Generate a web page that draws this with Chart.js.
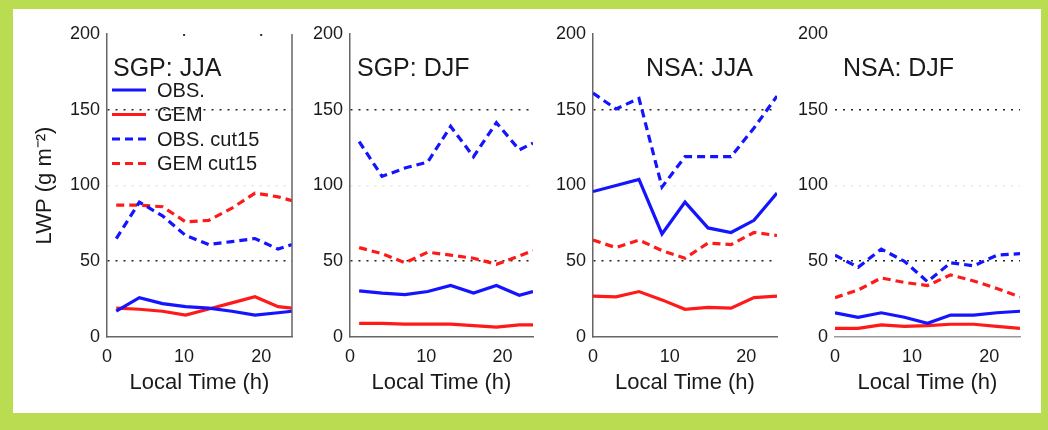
<!DOCTYPE html>
<html>
<head>
<meta charset="utf-8">
<script src="https://cdn.jsdelivr.net/npm/chart.js@4.4.1/dist/chart.umd.min.js"></script>
<style>
  html, body { margin: 0; padding: 0; }
  body { width: 1048px; height: 430px; background: #b9dc50; position: relative; overflow: hidden; }
  #frame { position: absolute; left: 13px; top: 9px; width: 1028px; height: 404px; background: #fff; }
  canvas { position: absolute; top: 0; }
</style>
</head>
<body>
<div id="frame"></div>
<canvas id="p0"></canvas>
<canvas id="p1"></canvas>
<canvas id="p2"></canvas>
<canvas id="p3"></canvas>
<script>
// local time (h) of each point
const sgpHours = [1.2, 4.2, 7.2, 10.2, 13.2, 16.2, 19.2, 22.2, 24];
const nsaHours = [0, 3, 6, 9, 12, 15, 18, 21, 24];

const panelTitles = ["SGP: JJA", "SGP: DJF", "NSA: JJA", "NSA: DJF"];
const seriesNames = ["OBS.", "GEM", "OBS. cut15", "GEM cut15"];
const yTicks = [0, 50, 100, 150, 200];
const xTicks = [0, 10, 20];

// LWP (g m-2)
const sgpJjaObs    = [17, 26, 22, 20, 19, 17, 14.5, 16, 17];
const sgpJjaGem    = [19, 18.3, 17, 14.5, 18.5, 22.5, 26.6, 20, 19];
const sgpJjaObsCut = [65, 89, 80, 67, 61, 63, 65, 58, 61];
const sgpJjaGemCut = [87, 87, 86, 76, 77, 85, 95, 92.5, 90];

const sgpDjfObs    = [30.5, 29, 28, 30, 34, 29, 34, 27.5, 30];
const sgpDjfGem    = [9, 9, 8.5, 8.5, 8.5, 7.5, 6.5, 8, 8];
const sgpDjfObsCut = [129, 106, 111.5, 115.5, 139, 119, 141.5, 123.5, 128];
const sgpDjfGemCut = [59, 55, 49, 56, 54, 52, 48, 53.5, 57];

const nsaJjaObs    = [96, 100, 104, 68, 89, 72, 69, 77, 95];
const nsaJjaGem    = [27, 26.5, 30, 24.5, 18.3, 19.5, 19, 26, 27];
const nsaJjaObsCut = [161, 150.5, 157.5, 99, 119, 119, 119, 138, 159];
const nsaJjaGemCut = [64, 59, 64, 57, 52, 62, 61, 69, 67];

const nsaDjfObs    = [16, 13, 16, 13, 9, 14.5, 14.5, 16, 17];
const nsaDjfGem    = [5.7, 5.7, 8, 7, 7.5, 8.4, 8.4, 7, 5.7];
const nsaDjfObsCut = [54, 46, 58, 50, 36.5, 49, 47, 54, 55];
const nsaDjfGemCut = [26, 31, 39, 36, 34, 41, 37, 32, 26.5];

const panelHours = [sgpHours, sgpHours, nsaHours, nsaHours];
const panelSeries = [
  [sgpJjaObs, sgpJjaGem, sgpJjaObsCut, sgpJjaGemCut],
  [sgpDjfObs, sgpDjfGem, sgpDjfObsCut, sgpDjfGemCut],
  [nsaJjaObs, nsaJjaGem, nsaJjaObsCut, nsaJjaGemCut],
  [nsaDjfObs, nsaDjfGem, nsaDjfObsCut, nsaDjfGemCut]
];

// page layout of each panel
const boxes = [
  { left: 14,  areaLeft: 107, areaRight: 292, titleDx: 6,  key: true,  frame: true,  yLine: true },
  { left: 300, areaLeft: 350, areaRight: 533, titleDx: 7,  key: false, frame: false, yLine: true },
  { left: 543, areaLeft: 593, areaRight: 777, titleDx: 53, key: false, frame: false, yLine: true },
  { left: 785, areaLeft: 835, areaRight: 1020, titleDx: 8, key: false, frame: false, yLine: false }
];

const FONT = '"Liberation Sans", Arial, sans-serif';
const BLUE = '#1414ff';
const RED = '#ff1a1a';
const lineColors = [BLUE, RED, BLUE, RED];
const lineDashes = [[], [], [8, 5], [8, 5]];

const panelDecor = {
  id: 'panelDecor',
  afterDatasetsDraw(chart, args, opts) {
    const { ctx, chartArea } = chart;
    ctx.save();
    ctx.fillStyle = '#1a1a1a';
    ctx.font = '25px ' + FONT;
    ctx.textBaseline = 'alphabetic';
    ctx.fillText(opts.title, chartArea.left + opts.titleDx, chartArea.top + 42);

    if (opts.key) {
      ctx.font = '20px ' + FONT;
      ctx.textBaseline = 'middle';
      chart.data.datasets.forEach((ds, k) => {
        const y = chartArea.top + 56 + 24.5 * k;
        ctx.strokeStyle = ds.borderColor;
        ctx.lineWidth = ds.borderWidth;
        ctx.setLineDash(ds.borderDash || []);
        ctx.beginPath();
        ctx.moveTo(chartArea.left + 5, y);
        ctx.lineTo(chartArea.left + 39, y);
        ctx.stroke();
        ctx.setLineDash([]);
        ctx.fillText(ds.label, chartArea.left + 50, y + 1);
      });
    }

    if (opts.frame) {
      ctx.strokeStyle = '#666';
      ctx.lineWidth = 1.5;
      ctx.beginPath();
      ctx.moveTo(chartArea.right, chartArea.top);
      ctx.lineTo(chartArea.right, chartArea.bottom);
      ctx.stroke();
      const xs = chart.scales.x;
      ctx.fillStyle = '#333';
      xTicks.slice(1).forEach(v => {
        ctx.fillRect(xs.getPixelForValue(v) - 1, chartArea.top, 2, 2);
      });
    }
    ctx.restore();
  }
};

function gridColor(v) {
  if (v === 50 || v === 150) return '#222';
  if (v === 100) return '#e4e4e4';
  return 'rgba(0,0,0,0)';
}

function makePanel(i) {
  const b = boxes[i];
  const yWidth = b.areaLeft - b.left;
  const cv = document.getElementById('p' + i);
  cv.width = yWidth + (b.areaRight - b.areaLeft) + 10;
  cv.height = 410;
  cv.style.left = b.left + 'px';

  const hours = panelHours[i];
  const datasets = panelSeries[i].map((vals, k) => ({
    label: seriesNames[k],
    data: vals.map((v, j) => ({ x: hours[j], y: v })),
    borderColor: lineColors[k],
    borderWidth: 3.2,
    borderDash: lineDashes[k],
    pointRadius: 0,
    tension: 0,
    fill: false
  }));

  new Chart(cv, {
    type: 'line',
    data: { datasets: datasets },
    options: {
      responsive: false,
      animation: false,
      devicePixelRatio: 1,
      layout: { padding: { top: 34, right: 10, left: 0, bottom: 0 } },
      plugins: {
        legend: { display: false },
        tooltip: { enabled: false },
        panelDecor: { title: panelTitles[i], titleDx: b.titleDx, key: b.key, frame: b.frame }
      },
      scales: {
        x: {
          type: 'linear',
          min: 0,
          max: 24,
          afterBuildTicks: s => { s.ticks = xTicks.map(v => ({ value: v })); },
          ticks: { padding: 9, color: '#1a1a1a', font: { family: FONT, size: 18 } },
          grid: { drawOnChartArea: false, drawTicks: false },
          border: { color: i === 3 ? '#999' : '#666', width: 1.5 },
          title: {
            display: true, text: 'Local Time (h)', color: '#1a1a1a',
            font: { family: FONT, size: 22 }, padding: { top: 0, bottom: 14 }
          },
          afterFit: s => { s.height = 73; }
        },
        y: {
          min: 0,
          max: 200,
          afterBuildTicks: s => { s.ticks = yTicks.map(v => ({ value: v })); },
          ticks: { padding: 7, color: '#1a1a1a', font: { family: FONT, size: 18 } },
          grid: { color: c => gridColor(c.tick && c.tick.value), lineWidth: 1.6, drawTicks: false },
          border: { display: b.yLine, color: '#666', width: 1.5, dash: [2, 6] },
          title: {
            display: i === 0, text: 'LWP (g m\u207B\u00B2)', color: '#1a1a1a',
            font: { family: FONT, size: 22 }, padding: { top: 18, bottom: 0 }
          },
          afterFit: s => { s.width = yWidth; }
        }
      }
    },
    plugins: [panelDecor]
  });
}

document.addEventListener("DOMContentLoaded", function() {
  for (let i = 0; i < 4; i++) makePanel(i);
});
</script>
</body>
</html>
